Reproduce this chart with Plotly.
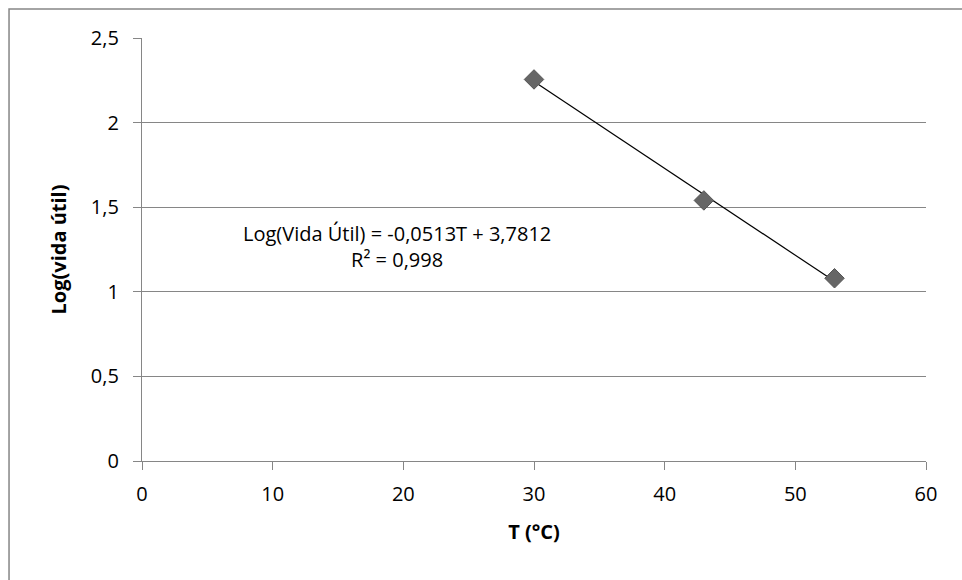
import plotly.graph_objects as go

# Temperature (°C) and log of shelf life
temperatura = [30, 43, 53]
log_vida = [2.255, 1.54, 1.08]

# Linear fit coefficients shown in the equation label
inclinacao = -0.0513
intercepto = 3.7812
r2 = 0.998

x_ticks = [0, 10, 20, 30, 40, 50, 60]
y_ticks = [0, 0.5, 1, 1.5, 2, 2.5]

FONT = "Open Sans"
GRID = "#868686"

t_fit = [min(temperatura), max(temperatura)]
y_fit = [inclinacao * t + intercepto for t in t_fit]

fig = go.Figure()
fig.add_trace(go.Scatter(
    x=t_fit, y=y_fit, mode="lines",
    line=dict(color="black", width=1.2),
    hoverinfo="skip", showlegend=False,
))
fig.add_trace(go.Scatter(
    x=temperatura, y=log_vida, mode="markers",
    marker=dict(symbol="diamond", size=15, color="#666666",
                line=dict(color="#555555", width=1)),
    showlegend=False,
))

fig.add_annotation(
    x=19.55, y=1.27, xref="x", yref="y",
    text="Log(Vida Útil) = -0,0513T + 3,7812<br>R² = 0,998",
    showarrow=False, align="center",
    font=dict(family=FONT, size=20, color="black"),
)

# Chart frame
fig.add_shape(type="rect", xref="paper", yref="paper",
              x0=-0.1696, x1=1.2, y0=-0.5, y1=1.0686,
              line=dict(color=GRID, width=1.5), layer="below")

fig.update_layout(
    width=962, height=580,
    margin=dict(l=142, r=36, t=38, b=119),
    paper_bgcolor="white", plot_bgcolor="white",
    separators=", ",
    font=dict(family=FONT, size=20, color="black"),
    xaxis=dict(
        range=[0, 60], tickvals=x_ticks, showgrid=False,
        showline=True, linecolor=GRID, linewidth=1.3,
        ticks="outside", ticklen=8, tickcolor=GRID, tickwidth=1.3,
        tickfont=dict(family=FONT, size=20), ticklabelstandoff=7,
        zeroline=False,
        title=dict(text="<b>T (°C)</b>", font=dict(family=FONT, size=20), standoff=18),
    ),
    yaxis=dict(
        range=[0, 2.5], tickvals=y_ticks, showgrid=True,
        gridcolor=GRID, gridwidth=1.3,
        showline=True, linecolor=GRID, linewidth=1.3,
        ticks="outside", ticklen=8, tickcolor=GRID, tickwidth=1.3,
        tickfont=dict(family=FONT, size=20), ticklabelstandoff=10,
        zeroline=False,
        title=dict(text="<b>Log(vida útil)</b>", font=dict(family=FONT, size=20), standoff=18),
    ),
)

fig.write_html("out.html")
